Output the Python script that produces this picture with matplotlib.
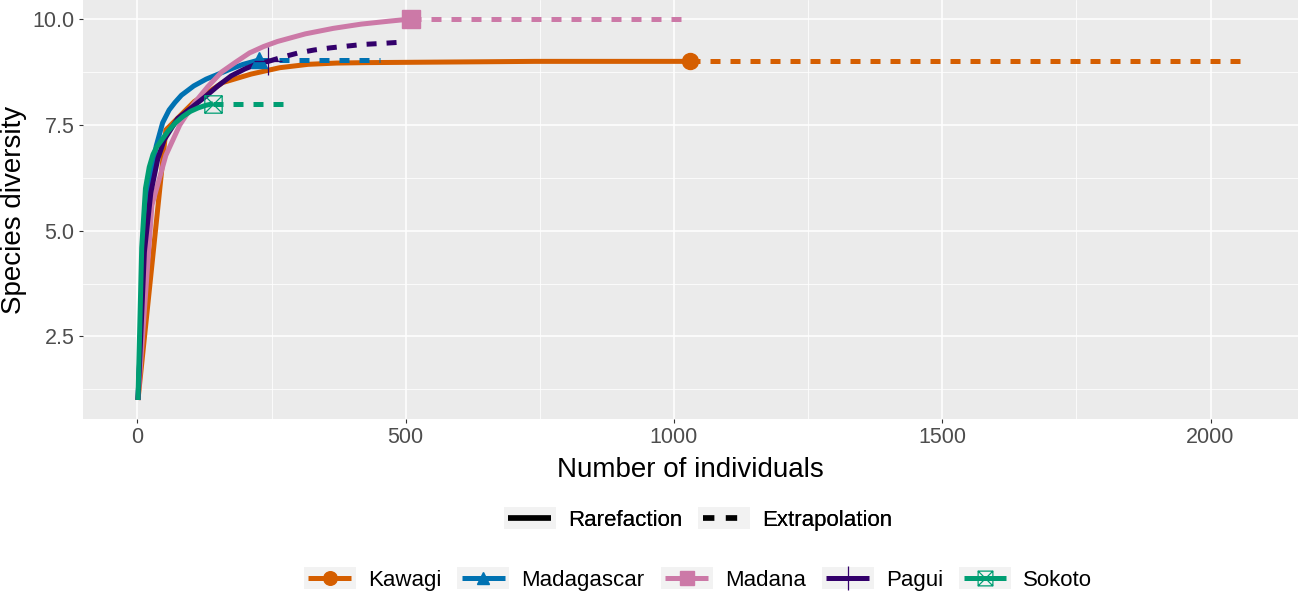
import matplotlib
matplotlib.use("Agg")
import matplotlib.pyplot as plt
from matplotlib.lines import Line2D
from matplotlib.patches import Rectangle
from matplotlib.path import Path
from matplotlib.legend_handler import HandlerBase

plt.rcParams['font.family'] = ['Liberation Sans', 'DejaVu Sans']

sites = ['Kawagi', 'Madagascar', 'Madana', 'Pagui', 'Sokoto']
colors = ['#D55E00', '#0072B2', '#CC79A7', '#33006B', '#009E73']

kawagi_m = [1, 53, 106, 159, 212, 265, 318, 371, 424, 530, 636, 742, 848, 954, 1030]
kawagi_s = [1, 7.38, 8.05, 8.5, 8.7, 8.85, 8.93, 8.96, 8.97, 8.98, 8.99, 9.0, 9.0, 9.0, 9.0]
kawagi_ext_m = [1030, 1545, 2060]
kawagi_ext_s = [9.0, 9.0, 9.0]

madag_m = [1, 12, 24, 35, 47, 59, 70, 82, 105, 128, 151, 174, 197, 226]
madag_s = [1, 4.3, 6.2, 7.0, 7.55, 7.85, 8.03, 8.2, 8.42, 8.58, 8.7, 8.82, 8.93, 9.03]
madag_ext_m = [226, 339, 452]
madag_ext_s = [9.03, 9.03, 9.03]

madana_m = [1, 27, 53, 79, 105, 131, 157, 183, 209, 235, 261, 313, 365, 417, 469, 509]
madana_s = [1, 5.6, 6.78, 7.5, 8.0, 8.4, 8.75, 8.98, 9.2, 9.35, 9.47, 9.65, 9.78, 9.88, 9.95, 10.0]
madana_ext_m = [509, 763, 1018]
madana_ext_s = [10.0, 10.0, 10.0]

pagui_m = [1, 13, 25, 38, 50, 75, 100, 125, 150, 175, 200, 225, 244]
pagui_s = [1, 4.5, 5.9, 6.7, 7.15, 7.65, 7.9, 8.15, 8.42, 8.66, 8.82, 8.95, 9.0]
pagui_ext_m = [244, 270, 300, 330, 360, 390, 420, 450, 488]
pagui_ext_s = [9.0, 9.1, 9.2, 9.27, 9.32, 9.36, 9.4, 9.42, 9.45]

sokoto_m = [1, 8, 15, 22, 29, 36, 43, 57, 71, 85, 99, 113, 127, 141]
sokoto_s = [1, 4.6, 6.0, 6.5, 6.8, 6.98, 7.1, 7.35, 7.55, 7.7, 7.82, 7.9, 7.96, 8.0]
sokoto_ext_m = [141, 211, 282]
sokoto_ext_s = [8.0, 8.0, 8.0]

rare_m = [kawagi_m, madag_m, madana_m, pagui_m, sokoto_m]
rare_s = [kawagi_s, madag_s, madana_s, pagui_s, sokoto_s]
ext_m = [kawagi_ext_m, madag_ext_m, madana_ext_m, pagui_ext_m, sokoto_ext_m]
ext_s = [kawagi_ext_s, madag_ext_s, madana_ext_s, pagui_ext_s, sokoto_ext_s]

# square with a cross in it (ggplot shape 7)
sq_cross = Path([(-1, -1), (1, -1), (1, 1), (-1, 1), (-1, -1),
                 (-1, -1), (1, 1), (-1, 1), (1, -1)],
                [Path.MOVETO, Path.LINETO, Path.LINETO, Path.LINETO, Path.CLOSEPOLY,
                 Path.MOVETO, Path.LINETO, Path.MOVETO, Path.LINETO])
markers = [dict(marker='o', ms=11.5),
           dict(marker='^', ms=11),
           dict(marker='s', ms=12.5),
           dict(marker='+', ms=19.5, mew=0.9),
           dict(marker=sq_cross, ms=12.5, mew=0.9, mfc='none')]

LW = 3.6
DASH = (0, (2, 2))

fig = plt.figure(figsize=(12.99, 5.94), dpi=100)
ax = fig.add_axes([82.7 / 1299, 1 - 419 / 594, (1298 - 82.7) / 1299, 419 / 594])
ax.set_facecolor('#EBEBEB')

for i in range(len(sites)):
    ax.plot(rare_m[i], rare_s[i], color=colors[i], lw=LW, solid_capstyle='butt', zorder=3)
    ax.plot(ext_m[i], ext_s[i], color=colors[i], lw=LW, linestyle=DASH,
            dash_capstyle='butt', zorder=3)
for i in range(len(sites)):
    ax.plot([rare_m[i][-1]], [rare_s[i][-1]], color=colors[i], linestyle='None',
            zorder=4, **markers[i])

ax.set_xlim(-102, 2163)
ax.set_ylim(0.55, 10.45)
ax.set_xticks([0, 500, 1000, 1500, 2000])
ax.set_xticks([250, 750, 1250, 1750], minor=True)
ax.set_yticks([2.5, 5.0, 7.5, 10.0])
ax.set_yticklabels(['2.5', '5.0', '7.5', '10.0'])
ax.set_yticks([1.25, 3.75, 6.25, 8.75], minor=True)
ax.grid(True, which='major', color='white', lw=1.1)
ax.grid(True, which='minor', color='white', lw=0.55)
ax.set_axisbelow(True)
for sp in ax.spines.values():
    sp.set_visible(False)
ax.tick_params(which='major', length=3, width=0.8, color='#333333',
               labelsize=15.5, labelcolor='#4D4D4D', pad=3)
ax.tick_params(which='minor', length=0)
ax.set_xlabel('Number of individuals', fontsize=20, labelpad=6)
fig.text(14 / 1299, 1 - 209.5 / 594, 'Species diversity', fontsize=20,
         rotation=90, ha='center', va='center')


class KeyHandler(HandlerBase):
    # grey key box, short line and marker, like ggplot legend keys
    def create_artists(self, legend, orig_handle, xdescent, ydescent, width, height, fontsize, trans):
        x0, y0 = -xdescent, -ydescent
        bg = Rectangle((x0, y0), width, height, facecolor='#F2F2F2', edgecolor='none', transform=trans)
        ym = y0 + height / 2
        pad = width * 0.09
        line = Line2D([x0 + pad, x0 + width - pad], [ym, ym])
        line.update_from(orig_handle)
        line.set_marker('None')
        line.set_transform(trans)
        arts = [bg, line]
        if orig_handle.get_marker() not in ('None', None, ''):
            mk = Line2D([x0 + width / 2], [ym])
            mk.update_from(orig_handle)
            mk.set_linestyle('None')
            mk.set_transform(trans)
            arts.append(mk)
        return arts


type_handles = [Line2D([], [], color='black', lw=4.1, solid_capstyle='butt'),
                Line2D([], [], color='black', lw=4.1, linestyle=DASH, dash_capstyle='butt')]
leg1 = fig.legend(type_handles, ['Rarefaction', 'Extrapolation'], loc='center',
                  bbox_to_anchor=(698 / 1299, 1 - 519 / 594), ncol=2, frameon=False,
                  fontsize=16, handlelength=2.34, handleheight=1.13, handletextpad=0.55,
                  columnspacing=0.72, borderpad=0, borderaxespad=0,
                  handler_map={Line2D: KeyHandler()})

site_handles = []
for i in range(len(sites)):
    mk = dict(markers[i])
    mk['ms'] = mk['ms'] * 0.85
    site_handles.append(Line2D([], [], color=colors[i], lw=LW, solid_capstyle='butt', **mk))
leg2 = fig.legend(site_handles, sites, loc='center',
                  bbox_to_anchor=(698 / 1299, 1 - 579 / 594), ncol=5, frameon=False,
                  fontsize=16, handlelength=2.34, handleheight=1.13, handletextpad=0.55,
                  columnspacing=0.72, borderpad=0, borderaxespad=0,
                  handler_map={Line2D: KeyHandler()})
fig.add_artist(leg1)

fig.savefig('out.png', dpi=100)
